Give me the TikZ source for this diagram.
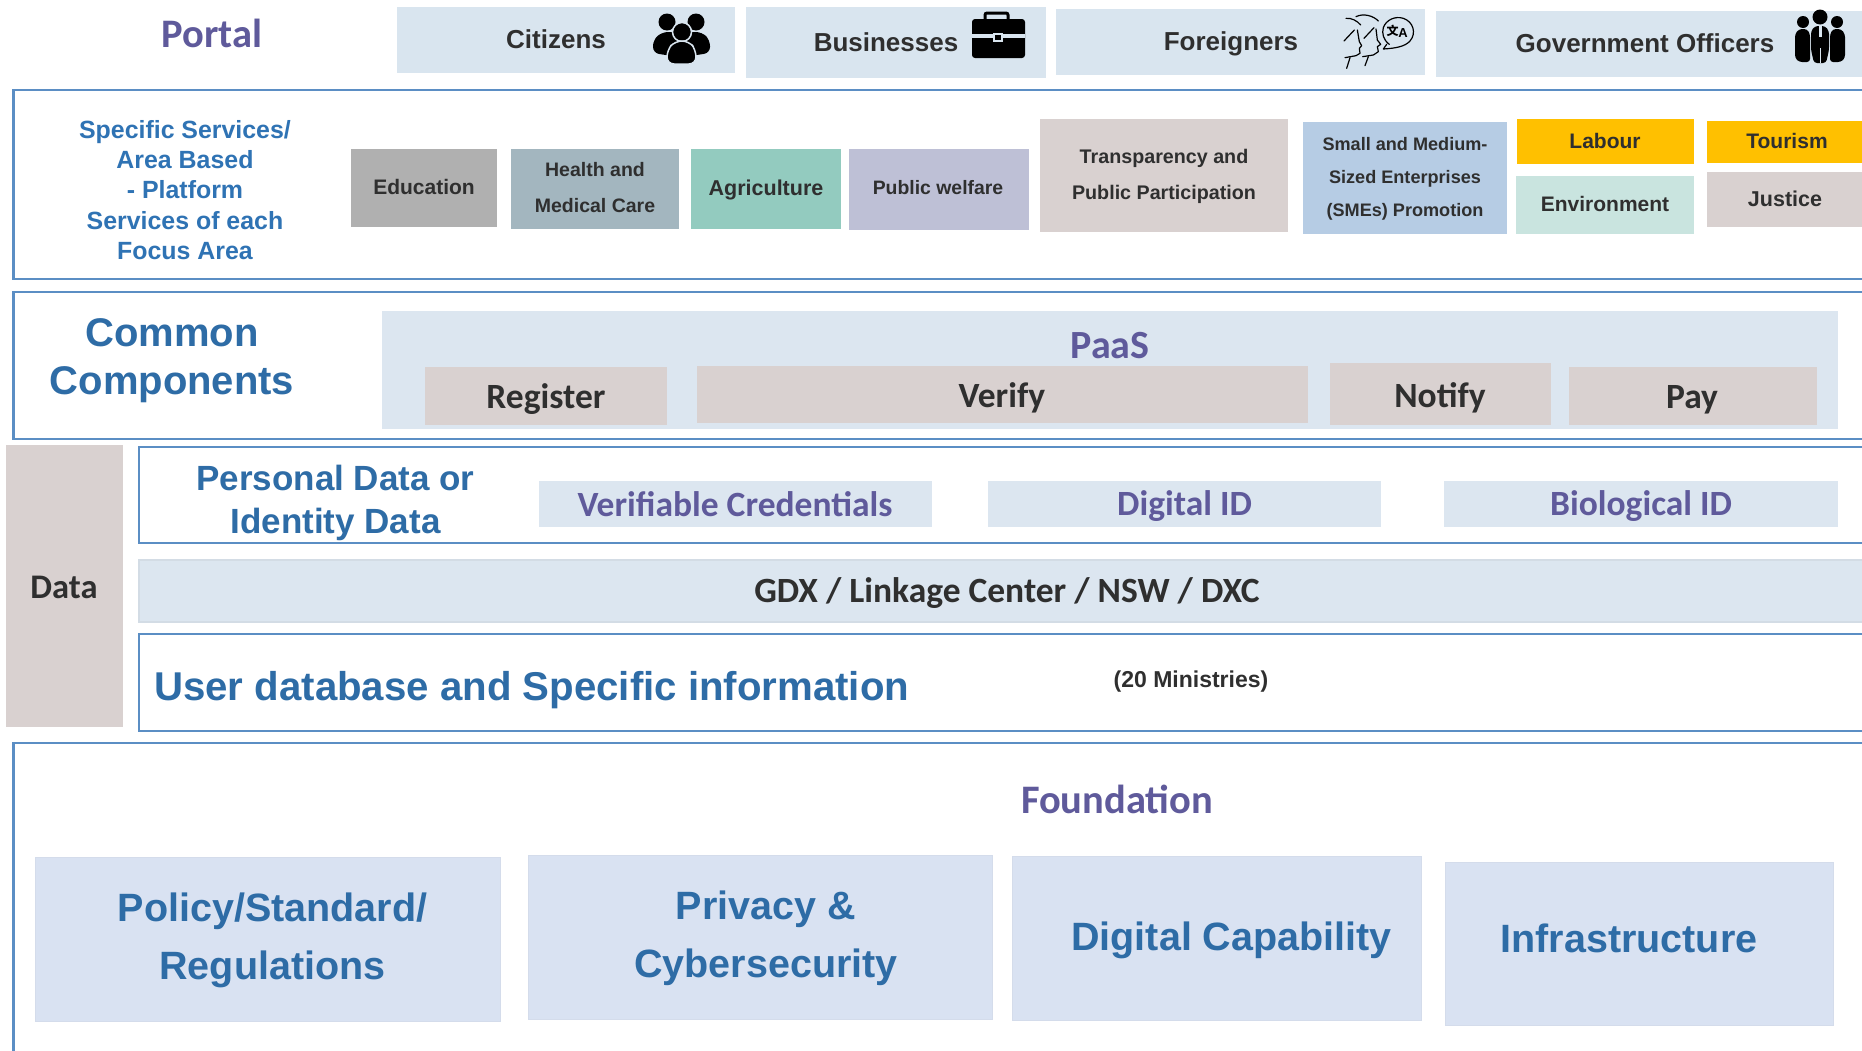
\documentclass[tikz,border=0pt]{standalone}
\usepackage{fontspec}
\setmainfont{Liberation Sans}
\newfontfamily\carl{Carlito}
\newfontfamily\cjkf{Noto Sans CJK SC}
\definecolor{frameblue}{HTML}{5B8EC4}
\definecolor{headblue}{HTML}{2E6CA6}
\definecolor{subblue}{HTML}{2F73B4}
\definecolor{purp}{HTML}{5F5A9B}
\definecolor{darktx}{HTML}{2F2F2F}
\definecolor{paleblue}{HTML}{DCE6F0}
\definecolor{topblue}{HTML}{D9E5EF}
\definecolor{taupe}{HTML}{D9D1D0}
\definecolor{lavblue}{HTML}{D9E2F2}
\definecolor{amber}{HTML}{FFC000}
\tikzset{
  x=1pt,y=-1pt,
  boxn/.style={rectangle,inner sep=0pt,outer sep=0pt,draw=none},
  framebox/.style={boxn,draw=frameblue,line width=2.5pt,fill=white},
  fndbox/.style={boxn,fill=lavblue,draw=lavblue!94!gray,line width=1pt},
  arg/.style 2 args={inner sep=0pt,align=center,text=darktx,font=\fontsize{#1}{#2}\bfseries\selectfont},
  arb/.style 2 args={inner sep=0pt,align=center,text=headblue,font=\fontsize{#1}{#2}\bfseries\selectfont},
  ca/.style 2 args={inner sep=0pt,align=center,text=#2,font=\carl\fontsize{#1}{#1}\bfseries\selectfont},
  sketch/.style={draw=black,line width=1.2pt,line cap=round,line join=round},
}
\newcommand{\bx}[6]{\node[boxn,#2,minimum width={(#5-#3)*1pt},minimum height={(#6-#4)*1pt}] (#1) at ({(#3+#5)/2},{(#4+#6)/2}) {};}
\begin{document}
\begin{tikzpicture}
\useasboundingbox (0,0) rectangle (1862,1050);
\fill[white] (0,0) rectangle (1862,1050);
\clip (0,0) rectangle (1862,1050);
% Portal row
\node[ca={40.5}{purp}] (portal) at (212,33) {Portal};
\bx{bcit}{fill=topblue}{397}{7}{735}{73}
\bx{bbus}{fill=topblue}{746}{7}{1046}{78}
\bx{bfor}{fill=topblue}{1056}{9}{1425}{75}
\bx{bgov}{fill=topblue}{1436}{11}{1880}{77}
\node[arg={26}{26}] (tcit) at (556,39) {Citizens};
\node[arg={26}{26}] (tbus) at (886,42) {Businesses};
\node[arg={26}{26}] (tfor) at (1231,44) {Foreigners};
\node[arg={26}{26}] (tgov) at (1645,43) {Government Officers};
% citizens icon
\fill[black] (667,22) circle (8.5);
\fill[black] (696,22) circle (8.5);
\fill[black,rounded corners=6pt] (653,53) -- (653,40) -- (662,32) -- (702,32) -- (710,40) -- (710,53) -- (690,56) -- (672,56) -- cycle;
\fill[black,draw=topblue,line width=1.5pt] (682,32) circle (9.5);
\fill[black,draw=topblue,line width=1.5pt,rounded corners=7pt] (667,64) -- (667,50) -- (675,41) -- (689,41) -- (696,50) -- (696,64) -- cycle;
% briefcase icon
\draw[black,line width=3pt,rounded corners=2pt] (985,19) -- (985,13) -- (1008,13) -- (1008,19);
\fill[black,rounded corners=3pt] (972,19) rectangle (1025,58);
\fill[topblue] (972,34) rectangle (1025,37.5);
\fill[topblue] (993,33) rectangle (1003,42);
\fill[black] (995,35) rectangle (1001,40);
% foreigners icon
\begin{scope}[shift={(1320,5)},x=0.3333pt,y=-0.3333pt]
\draw[sketch] (78,40) .. controls (95,38) and (112,48) .. (122,60);
\draw[sketch] (72,108) -- (103,75);
\draw[sketch] (112,75) -- (118,110) -- (125,122) -- (118,130) -- (120,145) -- (108,152) -- (75,158);
\draw[sketch] (90,158) -- (80,190);
\draw[sketch] (108,35) .. controls (130,24) and (160,32) .. (175,48);
\draw[sketch] (132,100) -- (162,68);
\draw[sketch] (168,72) -- (172,105) -- (182,118) -- (172,125) -- (175,140) -- (160,150) -- (128,155);
\draw[sketch] (145,155) -- (135,182);
\draw[sketch] (208,118) .. controls (190,105) and (185,85) .. (190,68) .. controls (198,45) and (225,32) .. (250,40) .. controls (280,50) and (290,85) .. (270,108) .. controls (255,125) and (225,130) .. (190,132) -- (200,118);
\end{scope}
\node[inner sep=0pt,font=\cjkf\bfseries\fontsize{12}{12}\selectfont] (iz) at (1392.5,31) {文};
\node[inner sep=0pt,font=\bfseries\fontsize{13}{13}\selectfont] (ia) at (1403,33) {A};
% officers icon
\fill[black] (1803,22) circle (6);
\fill[black] (1837,22) circle (6);
\fill[black,rounded corners=3pt] (1795,58) -- (1795,34) -- (1799,29) -- (1807,29) -- (1810,34) -- (1810,62) -- (1799,62) -- cycle;
\fill[black,rounded corners=3pt] (1830,62) -- (1830,34) -- (1833,29) -- (1841,29) -- (1845,34) -- (1845,58) -- (1841,62) -- cycle;
\fill[black] (1820,17) circle (7.5);
\fill[black,rounded corners=3pt] (1811,50) -- (1811,31) -- (1815,26) -- (1825,26) -- (1829,31) -- (1829,50) -- (1826,63) -- (1814,63) -- cycle;
\fill[topblue] (1818.5,26) -- (1821.5,26) -- (1821.5,37) -- (1818.5,37) -- cycle;
\fill[topblue] (1819.5,48) rectangle (1820.5,63);
% Specific services
\bx{f1}{framebox}{13.5}{90}{1900}{279}
\node[inner sep=0pt,align=center,text=subblue,font=\fontsize{24.9}{30.3}\bfseries\selectfont] (spec) at (185,190) {Specific Services/\\Area Based\\- Platform\\Services of each\\Focus Area};
\bx{bedu}{fill=black!31}{351}{149}{497}{227}
\bx{bhea}{fill={rgb,255:red,163;green,182;blue,191}}{511}{149}{679}{229}
\bx{bagr}{fill={rgb,255:red,147;green,203;blue,191}}{691}{149}{841}{229}
\bx{bpub}{fill={rgb,255:red,190;green,192;blue,214}}{849}{149}{1029}{230}
\bx{btra}{fill=taupe}{1040}{119}{1288}{232}
\bx{bsme}{fill={rgb,255:red,182;green,204;blue,228}}{1303}{122}{1507}{234}
\bx{blab}{fill=amber}{1517}{119}{1694}{164}
\bx{benv}{fill={rgb,255:red,201;green,228;blue,223}}{1516}{176}{1694}{234}
\bx{btou}{fill=amber}{1707}{121}{1880}{163}
\bx{bjus}{fill=taupe}{1707}{172}{1880}{227}
\node[arg={21}{21}] (tedu) at (424,187) {Education};
\node[arg={19.5}{36}] (thea) at (595,188) {Health and\\Medical Care};
\node[arg={21.5}{21.5}] (tagr) at (766,190) {Agriculture};
\node[arg={19.4}{19.4}] (tpub) at (938,188) {Public welfare};
\node[arg={19.7}{36}] (ttra) at (1164,176) {Transparency and\\Public Participation};
\node[arg={18.1}{33}] (tsme) at (1405,179) {Small and Medium-\\Sized Enterprises\\(SMEs) Promotion};
\node[arg={21}{21}] (tlab) at (1605,141) {Labour};
\node[arg={21}{21}] (ttou) at (1787,141) {Tourism};
\node[arg={21}{21}] (tenv) at (1605,204) {Environment};
\node[arg={21.5}{21.5}] (tjus) at (1785,199) {Justice};
% Common components
\bx{f2}{framebox}{13.5}{292}{1900}{439}
\node[arb={40}{48}] (tcom) at (172,360.5) {Common\\Components};
\bx{bpaas}{fill=paleblue}{382}{311}{1838}{429}
\bx{breg}{fill=taupe}{425}{367}{667}{425}
\bx{bver}{fill=taupe}{697}{366}{1308}{423}
\bx{bnot}{fill=taupe}{1330}{363}{1551}{425}
\bx{bpay}{fill=taupe}{1569}{367}{1817}{425}
\node[ca={40}{purp}] (tpaas) at (1110,346) {PaaS};
\node[ca={35.5}{darktx}] (treg) at (546,399.5) {Register};
\node[ca={35.5}{darktx}] (tver) at (1002,397.5) {Verify};
\node[ca={35.5}{darktx}] (tnot) at (1440,397.5) {Notify};
\node[ca={35.5}{darktx}] (tpay) at (1692,399.5) {Pay};
% Data
\bx{bdata}{fill=taupe}{6}{445}{123}{727}
\node[ca={34.5}{darktx}] (tdata) at (64,587) {Data};
\bx{f3}{framebox}{139}{447}{1900}{543}
\node[arb={35}{43}] (tper) at (335.5,502.5) {Personal Data or\\Identity Data};
\bx{bvc}{fill=paleblue}{539}{481}{932}{527}
\bx{bdid}{fill=paleblue}{988}{481}{1381}{527}
\bx{bbio}{fill=paleblue}{1444}{481}{1838}{527}
\node[ca={35.5}{purp}] (tvc) at (735,504) {Verifiable Credentials};
\node[ca={35.5}{purp}] (tdid) at (1184.5,506.5) {Digital ID};
\node[ca={35.5}{purp}] (tbio) at (1641,506.5) {Biological ID};
\bx{bgdx}{fill=paleblue,draw=paleblue!90!gray,line width=1.5pt}{139}{560}{1900}{622}
\node[ca={35.5}{darktx}] (tgdx) at (1007,593.5) {GDX / Linkage Center / NSW / DXC};
\bx{f4}{framebox}{139}{634}{1900}{731}
\node[arb={40.2}{40.2},anchor=west] (tuser) at (154,690.5) {User database and Specific information};
\node[arg={23}{23}] (tmin) at (1191,681.5) {(20 Ministries)};
% Foundation
\bx{f5}{framebox}{13.5}{743}{1900}{1100}
\node[ca={40.5}{purp}] (tfnd) at (1117,799) {Foundation};
\bx{bpol}{fndbox}{35}{857}{500}{1021}
\bx{bpri}{fndbox}{528}{855}{992}{1019}
\bx{bdig}{fndbox}{1012}{856}{1421}{1020}
\bx{binf}{fndbox}{1445}{862}{1833}{1025}
\node[arb={39.5}{58}] (tpol) at (272.5,940.5) {Policy/Standard/\\Regulations};
\node[arb={39.5}{58}] (tpri) at (766,938.5) {Privacy \&\\Cybersecurity};
\node[arb={39.5}{39.5}] (tdig) at (1231.5,940.5) {Digital Capability};
\node[arb={39.5}{39.5}] (tinf) at (1629,938) {Infrastructure};
\end{tikzpicture}
\end{document}
